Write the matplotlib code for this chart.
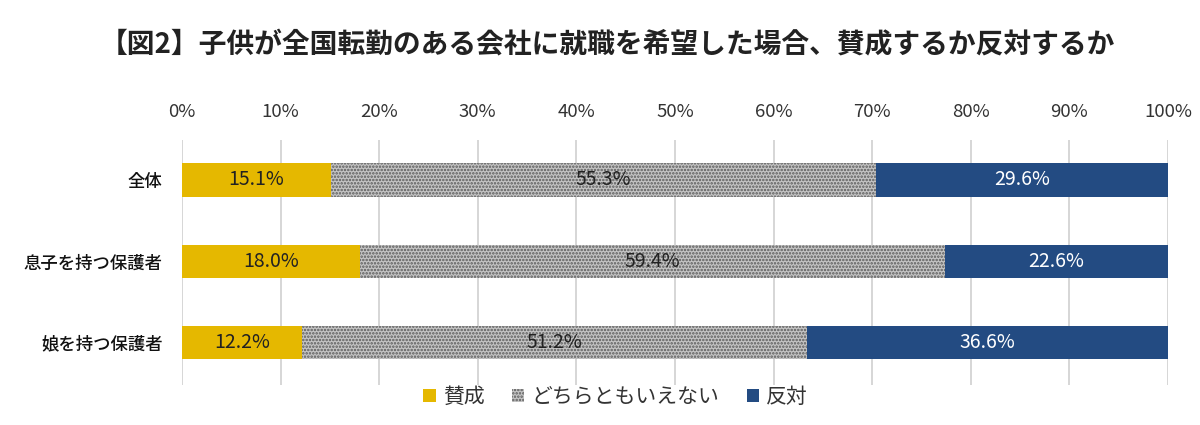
import matplotlib
matplotlib.use('Agg')
import matplotlib.pyplot as plt
import numpy as np

plt.rcParams['font.family'] = ['Noto Sans CJK JP', 'DejaVu Sans']
plt.rcParams['hatch.linewidth'] = 1.2
plt.rcParams['hatch.color'] = '#5a5a5a'

categories = ['全体', '息子を持つ保護者', '娘を持つ保護者']
series_names = ['賛成', 'どちらともいえない', '反対']
yes_vals = [15.1, 18.0, 12.2]
neutral_vals = [55.3, 59.4, 51.2]
no_vals = [29.6, 22.6, 36.6]
tick_labels = ['0%', '10%', '20%', '30%', '40%', '50%', '60%', '70%', '80%', '90%', '100%']

fig = plt.figure(figsize=(12, 4.25), dpi=100)
ax = fig.add_axes([0.1517, 0.094, 0.8216, 0.5766])

y = np.arange(len(categories))
h = 0.41

b1 = ax.barh(y, yes_vals, height=h, color='#E5B800', label=series_names[0], zorder=3)
b2 = ax.barh(y, neutral_vals, left=yes_vals, height=h, facecolor='#c4c4c4',
             edgecolor='#5a5a5a', linewidth=0, hatch='.....', label=series_names[1], zorder=3)
left3 = [a + b for a, b in zip(yes_vals, neutral_vals)]
b3 = ax.barh(y, no_vals, left=left3, height=h, color='#234B82', label=series_names[2], zorder=3)

for i in range(len(categories)):
    ax.text(yes_vals[i] / 2, y[i], f'{yes_vals[i]:.1f}%', ha='center', va='center',
            fontsize=14, color='#222222', zorder=4)
    ax.text(yes_vals[i] + neutral_vals[i] / 2, y[i], f'{neutral_vals[i]:.1f}%', ha='center',
            va='center', fontsize=14, color='#222222', zorder=4)
    ax.text(left3[i] + no_vals[i] / 2, y[i], f'{no_vals[i]:.1f}%', ha='center', va='center',
            fontsize=14, color='white', zorder=4)

ax.set_xlim(0, 100)
ax.set_ylim(2.52, -0.49)
ax.set_xticks(np.arange(0, 101, 10))
ax.set_xticklabels(tick_labels, fontsize=13.4, color='#333333')
ax.xaxis.tick_top()
ax.tick_params(axis='x', length=0, pad=14)
ax.set_yticks(y)
ax.set_yticklabels(categories, fontsize=12.5, color='#111111', fontweight='medium')
ax.tick_params(axis='y', length=0, pad=14)
ax.grid(axis='x', color='#d0d0d0', linewidth=1.2, zorder=0)
for s in ax.spines.values():
    s.set_visible(False)

fig.text(0.506, 0.895, '【図2】子供が全国転勤のある会社に就職を希望した場合、賛成するか反対するか',
         ha='center', va='center', fontsize=20, fontweight='bold', color='#222222')

leg = fig.legend(handles=[b1, b2, b3], loc='center', bbox_to_anchor=(0.513, 0.066), ncol=3,
                 frameon=False, fontsize=15, handlelength=0.6, handleheight=0.6,
                 handletextpad=0.35, columnspacing=1.3)
for t in leg.get_texts():
    t.set_color('#333333')

fig.savefig('out.png', dpi=100, facecolor='white')
